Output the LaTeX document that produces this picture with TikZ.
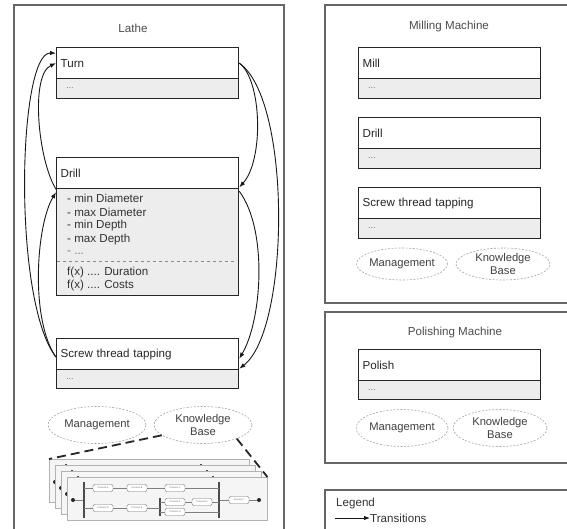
\documentclass[tikz,border=0pt]{standalone}
\usepackage{fontspec}
\setmainfont{Liberation Sans}
\usetikzlibrary{arrows.meta,shapes.geometric}
\tikzset{
  frame/.style={draw=black!60,line width=1.6pt},
  ttl/.style={text=black!70,inner sep=0pt},
  hdr/.style={rectangle,draw=black!85,line width=1.3pt,fill=white,anchor=north west,
    minimum width=182pt,minimum height=31pt,text width=174pt,align=left,
    inner xsep=4pt,inner ysep=0pt,text=black!85},
  bdy/.style={rectangle,draw=black!85,line width=1.3pt,fill=black!7,anchor=north west,
    minimum width=182pt,minimum height=#1,inner sep=0pt},
  dots/.style={anchor=west,text=black!55,inner sep=0pt,font=\fontsize{9}{10}\selectfont},
  lst/.style={anchor=west,text=black!80,inner sep=0pt},
  sep/.style={draw=black!45,dashed,line width=0.6pt},
  ell/.style={ellipse,draw=black!35,dash pattern=on 2pt off 1.5pt,line width=0.6pt,
    inner sep=-1pt,align=center,text=black!75,font=\fontsize{11.2}{13}\selectfont},
  trans/.style={-{Latex[length=6pt,width=4.5pt]},line width=0.9pt,black!90},
  kbl/.style={line width=1.8pt,dash pattern=on 9pt off 5pt,black!85},
  page/.style={rectangle,anchor=north west,minimum width=200pt,minimum height=43pt,
    draw=black!30,fill=black!4,inner sep=0pt},
  pdot/.style={circle,fill=black!85,minimum size=4pt,inner sep=0pt},
  pbar/.style={rectangle,fill=black!70,minimum width=1.4pt,inner sep=0pt},
  pbox/.style={rectangle,rounded corners=2pt,draw=black!55,fill=white,minimum width=20pt,
    minimum height=7pt,inner sep=0.5pt,font=\fontsize{2.4}{3}\selectfont,text=black!60},
  pl/.style={draw=black!50,line width=0.4pt},
  pg/.pic={
    \node[page] (-pg) at (0,0) {};
    \node[pdot] (-s) at (6,23) {};
    \node[pbar,minimum height=36pt] (-f1) at (17,23) {};
    \coordinate (-f1a) at (17,11);
    \coordinate (-f1d) at (17,31);
    \node[pbox] (-a) at (36,11) {Process A};
    \node[pbox] (-b) at (70,11) {Process B};
    \node[pbox] (-c) at (108,11) {Process C};
    \node[pbox] (-d) at (36,31) {Process D};
    \node[pbox] (-e) at (70,31) {Process E};
    \node[pbar,minimum height=18pt] (-f2) at (93,30) {};
    \coordinate (-f2d) at (93,31);
    \coordinate (-f2g) at (93,25);
    \coordinate (-f2i) at (93,35);
    \node[pbox] (-g) at (108,25) {Process F};
    \node[pbox] (-h) at (135,25) {Process G};
    \node[pbox] (-i) at (108,35) {Process H};
    \node[pbar,minimum height=36pt] (-j) at (152,23) {};
    \coordinate (-ja) at (152,11);
    \coordinate (-jg) at (152,25);
    \coordinate (-ji) at (152,35);
    \node[pbox] (-k) at (172,23) {Process I};
    \node[pdot] (-t) at (192,23) {};
    \draw[pl] (-s) -- (-f1);
    \draw[pl] (-f1a) -- (-a) -- (-b) -- (-c) -- (-ja);
    \draw[pl] (-f1d) -- (-d) -- (-e) -- (-f2d);
    \draw[pl] (-f2g) -- (-g) -- (-h) -- (-jg);
    \draw[pl] (-f2i) -- (-i) -- (-ji);
    \draw[pl] (-j) -- (-k) -- (-t);
  }
}
\begin{document}
\begin{tikzpicture}[x=1pt,y=-1pt,font=\fontsize{11.6}{14}\selectfont]
\useasboundingbox (0,0) rectangle (567,529);
\clip (0,0) rectangle (567,529);
\fill[white] (0,0) rectangle (567,529);

% frames
\draw[frame] (14,5) rectangle (284,545);
\draw[frame] (325,5) rectangle (590,303);
\draw[frame] (325,312) rectangle (590,463);
\draw[frame] (325,490) rectangle (590,545);

% titles
\node[ttl] (tlathe) at (133,28) {Lathe};
\node[ttl] (tmill) at (449,27) {Milling Machine};
\node[ttl] (tpol) at (455,332) {Polishing Machine};

% Lathe operations
\node[bdy=20pt] (turnb) at (56,78) {};
\node[hdr] (turn) at (56,47) {Turn};
\node[dots] (turnd) at (66,88) {...};

\node[bdy=107pt] (drillb) at (56,188) {};
\node[hdr] (drill) at (56,157) {Drill};
\node[lst] (d1) at (67,198) {- min Diameter};
\node[lst] (d2) at (67,212) {- max Diameter};
\node[lst] (d3) at (67,226) {- min Depth};
\node[lst] (d4) at (67,240) {- max Depth};
\node[lst,text=black!55] (d5) at (67,253) {- ...};
\draw[sep] (57,261) -- (237,261);
\node[lst] (d6) at (67,272) {f(x) .... Duration};
\node[lst] (d7) at (67,285) {f(x) .... Costs};

\node[bdy=19pt] (screwb) at (56,369) {};
\node[hdr] (screw) at (56,338) {Screw thread tapping};
\node[dots] (screwd) at (66,379) {...};

\node[ell,minimum width=98pt,minimum height=37pt] (lmg) at (97,425) {Management};
\node[ell,minimum width=98pt,minimum height=37pt] (lkb) at (203,425) {Knowledge\\Base};

% transitions (left)
\draw[trans] (drill.south west) .. controls (38,160) and (30,75) .. (turn.west);
\draw[trans] ([yshift=-3pt]screw.west) .. controls (12,300) and (18,52) .. ([yshift=10pt]turn.west);
\draw[trans] ([yshift=-3pt]screw.west) .. controls (30,320) and (36,225) .. ([yshift=-3pt]drill.south west);
% transitions (right)
\draw[trans] (turn.east) .. controls (262,80) and (264,160) .. ([yshift=2pt]drill.south east);
\draw[trans] (turn.east) .. controls (292,100) and (290,330) .. ([yshift=-14.5pt]screw.east);
\draw[trans] ([yshift=-2pt]drill.south east) .. controls (268,230) and (262,320) .. ([yshift=-4.5pt]screw.east);

% process model stack
\pic (pa) at (49,459) {pg};
\pic (pb) at (55,465) {pg};
\pic (pc) at (61,471) {pg};
\pic (pd) at (67,477) {pg};
\draw[kbl] (lkb.194) -- (pa-pg.north west);
\draw[kbl] (lkb.-22) -- (pd-pg.north east);

% Milling machine
\node[bdy=20pt] (millb) at (358,78) {};
\node[hdr] (mill) at (358,47) {Mill};
\node[dots] (milld) at (368,88) {...};
\node[bdy=20pt] (mdrillb) at (358,148) {};
\node[hdr] (mdrill) at (358,117) {Drill};
\node[dots] (mdrilld) at (368,158) {...};
\node[bdy=20pt] (mscrewb) at (358,218) {};
\node[hdr] (mscrew) at (358,187) {Screw thread tapping};
\node[dots] (mscrewd) at (368,228) {...};
\node[ell,minimum width=91pt,minimum height=32pt] (mmg) at (402,264) {Management};
\node[ell,minimum width=94pt,minimum height=32pt] (mkb) at (503,264) {Knowledge\\Base};

% Polishing machine
\node[bdy=19pt] (polb) at (358,380) {};
\node[hdr] (pol) at (358,349) {Polish};
\node[dots] (pold) at (368,390) {...};
\node[ell,minimum width=92pt,minimum height=37pt] (pmg) at (402,428) {Management};
\node[ell,minimum width=94pt,minimum height=37pt] (pkb) at (500,428) {Knowledge\\Base};

% Legend
\node[anchor=west,inner sep=0pt,text=black!80] (lg) at (336,503) {Legend};
\coordinate (lgs) at (335,518);
\node[anchor=west,inner sep=0pt,text=black!80] (lgt) at (370,518) {Transitions};
\draw[trans] (lgs) -- (lgt.west);
\end{tikzpicture}
\end{document}
